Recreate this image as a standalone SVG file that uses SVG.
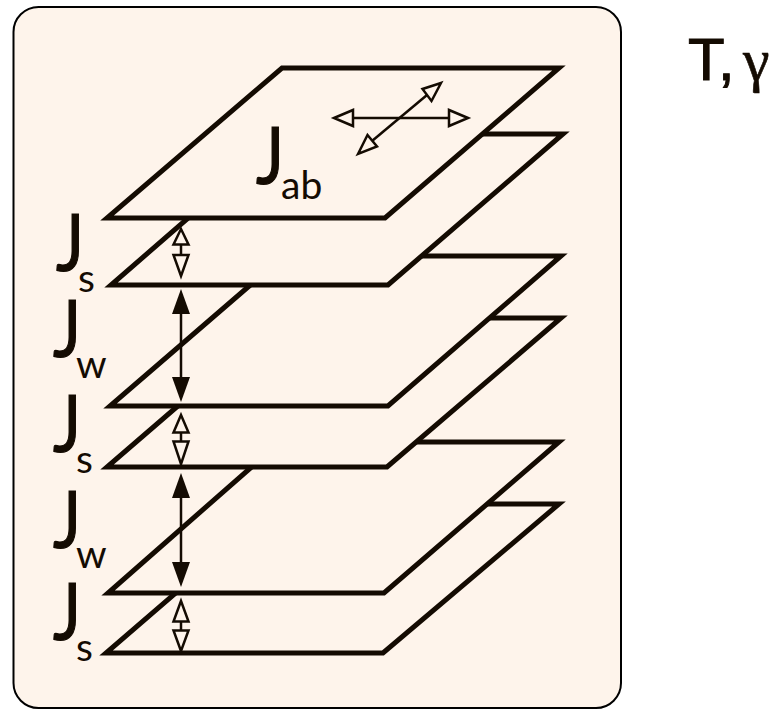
<svg xmlns="http://www.w3.org/2000/svg" width="771" height="709" viewBox="0 0 771 709">
<defs>
<style>
.pl{fill:#fef4eb;stroke:#140b02;stroke-width:5;stroke-linejoin:miter;stroke-miterlimit:10}
.ar{fill:none;stroke:#140b02;stroke-width:2.500}
.op{fill:#fef4eb;stroke:#140b02;stroke-width:2.500;stroke-miterlimit:10}
.fi{fill:#140b02;stroke:none}
text{fill:#140b02;font-family:"Lato",sans-serif}
.big{font-size:80px;stroke:#140b02;stroke-width:1.200}
.sub{font-size:39px}
</style>
</defs>
<rect id="panel" x="13.500" y="7" width="607.500" height="701" rx="25" fill="#fef4eb" stroke="#000" stroke-width="2"/>
<g id="planes">
<polygon id="plane6" class="pl" points="279,504 559,504 383,653 106,653"/>
<polygon id="plane5" class="pl" points="280,442 559,442 384,593 108,593"/>
<polygon id="plane4" class="pl" points="280,318 561,318 387,467 107,467"/>
<polygon id="plane3" class="pl" points="284,256 561,256 388,406 110,406"/>
<polygon id="plane2" class="pl" points="285,134 563,134 388,285 111,285"/>
<polygon id="plane1" class="pl" points="282,68 559,68 385,218 107,218"/>
</g>
<g id="connectors">
<path class="ar" d="M181 244V255"/>
<path class="op" d="M181 229L188.500 244.500H173.500Z"/><path class="op" d="M181 276L188.500 255H173.500Z"/>
<path class="ar" d="M181 310V380"/>
<path class="fi" d="M181 289L190 314H172Z"/><path class="fi" d="M181 402L190 377H172Z"/>
<path class="ar" d="M181 432V441"/>
<path class="op" d="M181 415L188.500 432.500H173.500Z"/><path class="op" d="M181 464L188.500 441.500H173.500Z"/>
<path class="ar" d="M181 495V565"/>
<path class="fi" d="M181 473L190 498H172Z"/><path class="fi" d="M181 587L190 562H172Z"/>
<path class="ar" d="M181 621V631"/>
<path class="op" d="M181 601L188.500 621.500H173.500Z"/><path class="op" d="M181 651L188.500 630.500H173.500Z"/>
<path class="ar" d="M353 118H449"/>
<path class="ar" d="M372 141L427 95"/>
<path class="op" d="M334 118L353 110V126Z"/><path class="op" d="M468 118L449 110V126Z"/>
<path class="op" d="M358 154L367.500 135L377 146.500Z"/><path class="op" d="M441 83L422.500 89L431.500 101Z"/>
</g>
<g id="labels">
<g id="Jab"><text class="big" transform="translate(256 184) scale(.83 1)">J</text><text class="sub" x="281" y="199">ab</text></g>
<g id="Js1"><text class="big" transform="translate(56 271) scale(.83 1)">J</text><text class="sub" x="78" y="292">s</text></g>
<g id="Jw1"><text class="big" transform="translate(53 357) scale(.83 1)">J</text><text class="sub" x="76" y="378">w</text></g>
<g id="Js2"><text class="big" transform="translate(53 452) scale(.83 1)">J</text><text class="sub" x="76" y="473">s</text></g>
<g id="Jw2"><text class="big" transform="translate(53 548) scale(.83 1)">J</text><text class="sub" x="76" y="568">w</text></g>
<g id="Js3"><text class="big" transform="translate(53 640) scale(.83 1)">J</text><text class="sub" x="76" y="661">s</text></g>
<text x="688" y="80" style="font-family:'Liberation Sans',sans-serif;font-size:60px;stroke:#140b02;stroke-width:1">T,</text>
<text x="743" y="80" style="font-family:'Liberation Serif',serif;font-size:60px;stroke:#140b02;stroke-width:.6">γ</text>
</g>
</svg>
